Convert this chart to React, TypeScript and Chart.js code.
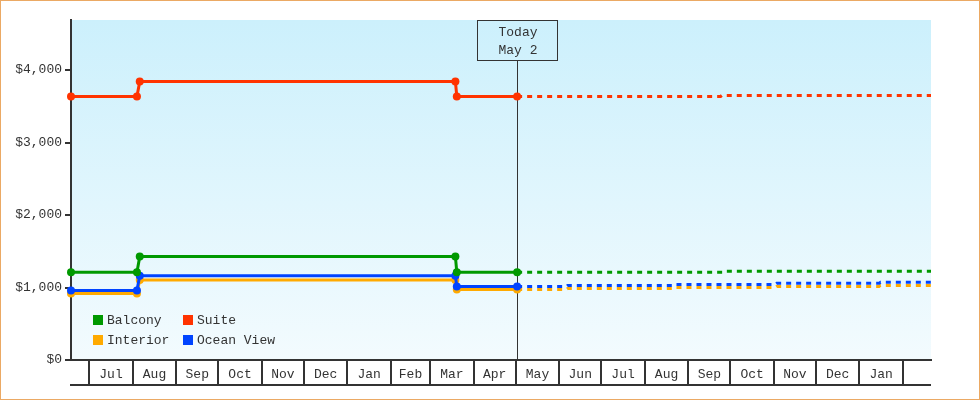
import React, { useEffect, useRef } from 'react';
import { Chart, registerables } from 'chart.js';

Chart.register(...registerables);

const FONT_FAMILY = '"Liberation Mono", "DejaVu Sans Mono", monospace';
const TEXT_COLOR = '#333333';

// Days counted from Jul 1 of the first year shown
const xMin = -13;
const xMax = 600;
const todayDay = 305;
const todayLines = ['Today', 'May 2'];

const monthStarts = [0, 31, 62, 92, 123, 153, 184, 215, 243, 274, 304, 335, 365, 396, 427, 457, 488, 518, 549, 580];
const monthLabels = ['Jul', 'Aug', 'Sep', 'Oct', 'Nov', 'Dec', 'Jan', 'Feb', 'Mar', 'Apr', 'May', 'Jun', 'Jul', 'Aug', 'Sep', 'Oct', 'Nov', 'Dec', 'Jan'];

const yMax = 4690;
const yTicks = [0, 1000, 2000, 3000, 4000];

const seriesLabels = ['Balcony', 'Suite', 'Interior', 'Ocean View'];
const seriesColors = ['#009900', '#ff3300', '#ffaa00', '#0044ff'];
const seriesDrawOrder = [0, 1, 3, 2];

// Past prices (solid, with markers)
const histDays = [-13, 34, 36, 261, 262, 305];
const balconyHist = [1210, 1210, 1426, 1426, 1210, 1210];
const suiteHist = [3635, 3635, 3840, 3840, 3635, 3635];
const interiorHist = [918, 918, 1105, 1105, 973, 973];
const oceanHist = [960, 960, 1162, 1162, 1015, 1015];

// Forecast prices (dotted)
const balconyFutureDays = [453, 454, 600];
const balconyFuture = [1210, 1223, 1223];
const suiteFutureDays = [450, 451, 600];
const suiteFuture = [3635, 3650, 3650];
const cabinFutureDays = [340, 341, 417, 418, 489, 490, 563, 564, 600];
const interiorFuture = [973, 987, 987, 1001, 1001, 1015, 1015, 1029, 1029];
const oceanFuture = [1015, 1029, 1029, 1043, 1043, 1057, 1057, 1071, 1071];

const histSeries = [balconyHist, suiteHist, interiorHist, oceanHist];
const futureDaysSeries = [balconyFutureDays, suiteFutureDays, cabinFutureDays, cabinFutureDays];
const futureSeries = [balconyFuture, suiteFuture, interiorFuture, oceanFuture];

function buildPoints(i: number) {
  const pts: any[] = histDays.map((d, k) => ({ x: d, y: histSeries[i][k], hist: true }));
  futureDaysSeries[i].forEach((d, k) => pts.push({ x: d, y: futureSeries[i][k], hist: false }));
  return pts;
}

const font = (size: number) => ({ family: FONT_FAMILY, size });

const backgroundPlugin = {
  id: 'plotBackground',
  beforeDraw(chart: any) {
    const { ctx, chartArea: a } = chart;
    ctx.save();
    ctx.fillStyle = '#ffffff';
    ctx.fillRect(0, 0, chart.width, chart.height);
    const g = ctx.createLinearGradient(0, a.top, 0, a.bottom);
    g.addColorStop(0, '#ccf0fc');
    g.addColorStop(1, '#f3fbfe');
    ctx.fillStyle = g;
    ctx.fillRect(a.left, a.top, a.right - a.left, a.bottom - a.top);
    ctx.restore();
  },
};

const todayPlugin = {
  id: 'todayMarker',
  beforeDatasetsDraw(chart: any) {
    const { ctx, chartArea: a, scales } = chart;
    const x = Math.round(scales.x.getPixelForValue(todayDay));
    const boxW = 80;
    const boxH = 40;
    const left = x - boxW / 2;
    const top = a.top;
    ctx.save();
    ctx.strokeStyle = '#333333';
    ctx.lineWidth = 1;
    ctx.beginPath();
    ctx.moveTo(x + 0.5, top + boxH);
    ctx.lineTo(x + 0.5, a.bottom);
    ctx.stroke();
    ctx.strokeRect(left + 0.5, top + 0.5, boxW, boxH);
    ctx.fillStyle = TEXT_COLOR;
    ctx.font = `13px ${FONT_FAMILY}`;
    ctx.textAlign = 'center';
    ctx.textBaseline = 'middle';
    todayLines.forEach((t, i) => ctx.fillText(t, x + 1, top + 13 + i * 18));
    ctx.restore();
  },
};

const monthBoxesPlugin = {
  id: 'monthBoxes',
  afterDraw(chart: any) {
    const { ctx, chartArea: a, scales } = chart;
    const y0 = a.bottom;
    const y1 = a.bottom + 25;
    ctx.save();
    ctx.strokeStyle = '#333333';
    ctx.lineWidth = 2;
    ctx.beginPath();
    monthStarts.forEach((d) => {
      const px = Math.round(scales.x.getPixelForValue(d));
      ctx.moveTo(px, y0);
      ctx.lineTo(px, y1);
    });
    ctx.moveTo(a.left - 1, y1);
    ctx.lineTo(a.right, y1);
    ctx.stroke();
    ctx.restore();
  },
};

const legendPlugin = {
  id: 'insideLegend',
  afterDraw(chart: any) {
    const { ctx, chartArea: a } = chart;
    ctx.save();
    ctx.font = `13px ${FONT_FAMILY}`;
    ctx.textAlign = 'left';
    ctx.textBaseline = 'middle';
    chart.data.datasets.forEach((ds: any, i: number) => {
      const col = i % 2;
      const row = Math.floor(i / 2);
      const x = a.left + 22 + col * 90;
      const y = a.bottom - 40 + row * 20;
      ctx.fillStyle = ds.borderColor;
      ctx.fillRect(x, y - 5, 10, 10);
      ctx.fillStyle = TEXT_COLOR;
      ctx.fillText(ds.label, x + 14, y + 1);
    });
    ctx.restore();
  },
};

const framePlugin = {
  id: 'frame',
  afterDraw(chart: any) {
    const { ctx } = chart;
    ctx.save();
    ctx.strokeStyle = '#eba964';
    ctx.lineWidth = 1;
    ctx.strokeRect(0.5, 0.5, chart.width - 1, chart.height - 1);
    ctx.restore();
  },
};

export default function App() {
  const canvasRef = useRef<HTMLCanvasElement | null>(null);

  useEffect(() => {
    if (!canvasRef.current) return;
    const datasets = seriesLabels.map((label, i) => ({
      label,
      data: buildPoints(i),
      borderColor: seriesColors[i],
      backgroundColor: seriesColors[i],
      borderWidth: 3,
      borderCapStyle: 'butt',
      borderJoinStyle: 'miter',
      tension: 0,
      fill: false,
      clip: false,
      order: seriesDrawOrder[i],
      pointRadius: (ctx: any) => (ctx.raw && ctx.raw.hist ? 4 : 0),
      pointHoverRadius: 0,
      pointBorderWidth: 0,
      pointBackgroundColor: seriesColors[i],
      segment: {
        borderDash: (ctx: any) => (ctx.p0.parsed.x >= todayDay ? [5, 5] : undefined),
      },
    }));

    const chart = new Chart(canvasRef.current, {
      type: 'line',
      data: { datasets } as any,
      options: {
        animation: false,
        responsive: false,
        events: [],
        layout: { padding: { top: 20, right: 49, left: 0, bottom: 0 } },
        plugins: {
          legend: { display: false },
          tooltip: { enabled: false },
        },
        scales: {
          x: {
            type: 'linear',
            min: xMin,
            max: xMax,
            afterBuildTicks: (s: any) => {
              s.ticks = monthLabels.map((_, i) => ({ value: (monthStarts[i] + monthStarts[i + 1]) / 2 }));
            },
            afterFit: (s: any) => {
              s.height = 40;
            },
            ticks: {
              autoSkip: false,
              maxRotation: 0,
              minRotation: 0,
              padding: 7,
              color: TEXT_COLOR,
              font: font(13),
              callback: (_v: any, i: number) => monthLabels[i],
            },
            grid: { display: false, drawTicks: false },
            border: { display: true, color: '#333333', width: 2 },
          },
          y: {
            type: 'linear',
            min: 0,
            max: yMax,
            afterBuildTicks: (s: any) => {
              s.ticks = yTicks.map((v) => ({ value: v }));
            },
            afterFit: (s: any) => {
              s.width = 71;
            },
            ticks: {
              autoSkip: false,
              padding: 3,
              color: TEXT_COLOR,
              font: font(13),
              callback: (v: any) => '$' + Number(v).toLocaleString('en-US'),
            },
            grid: { drawOnChartArea: false, tickLength: 6, lineWidth: 2, color: '#333333' },
            border: { display: true, color: '#333333', width: 2 },
          },
        },
      } as any,
      plugins: [backgroundPlugin, todayPlugin, monthBoxesPlugin, legendPlugin, framePlugin],
    });
    return () => chart.destroy();
  }, []);

  return (
    <div style={{ position: 'fixed', left: 0, top: 0, width: 980, height: 400, background: '#fff' }}>
      <canvas ref={canvasRef} width={980} height={400} style={{ width: 980, height: 400, display: 'block' }} />
    </div>
  );
}
